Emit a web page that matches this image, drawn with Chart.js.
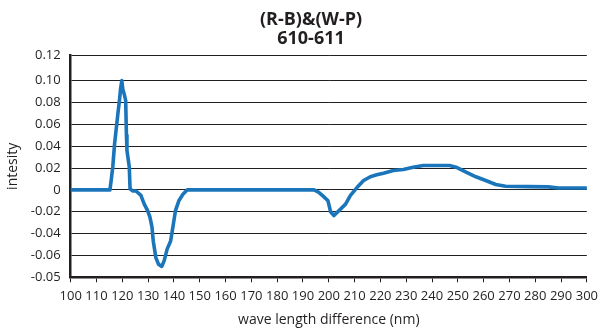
<!DOCTYPE html>
<html>
<head>
<meta charset="utf-8">
<script src="https://cdn.jsdelivr.net/npm/chart.js@4"></script>
<style>
  html, body { margin: 0; padding: 0; background: #fff; }
  #contenedor { width: 604px; height: 328px; position: relative; }
</style>
</head>
<body>
<div id="contenedor"><canvas id="grafico"></canvas></div>
<script>
// datos
const titulo = ['(R-B)&(W-P)', '610-611'];
const longitud = [100, 115.2, 115.7, 116.3, 117.0, 117.6, 118.3, 118.9, 119.3, 119.8, 120.2, 120.8, 121.3, 121.6, 121.8,
    122.7, 123.0, 124.0, 125.3, 127.2, 128.5, 129.8, 130.7, 131.5, 132.0, 133.0, 134.0, 135.3, 136.2, 137.4, 138.7,
    139.6, 140.6, 141.9, 143.5, 145.1, 194.3, 196.0, 197.5, 199.7, 200.7, 202.0, 203.9, 206.5, 208.4, 211.0, 213.5,
    216.1, 218.6, 221.2, 225.0, 228.9, 232.7, 236.6, 241.7, 246.8, 249.3, 253.2, 257.0, 260.8, 264.7, 268.5, 277.5,
    285.1, 288.9, 300];
const intensidad = [0, 0, 0.009, 0.021, 0.042, 0.055, 0.070, 0.082, 0.092, 0.100, 0.092, 0.087, 0.082, 0.050, 0.036,
    0.021, 0.001, -0.001, -0.001, -0.005, -0.013, -0.019, -0.025, -0.034, -0.047, -0.062, -0.068, -0.070, -0.065, -0.054, -0.047,
    -0.034, -0.019, -0.010, -0.004, 0, 0, -0.002, -0.005, -0.010, -0.020, -0.0235, -0.019, -0.013, -0.005, 0.0024, 0.0086,
    0.012, 0.0138, 0.0153, 0.0178, 0.0187, 0.0208, 0.0223, 0.0223, 0.0223, 0.0208, 0.0162, 0.012, 0.0086, 0.0049, 0.0033, 0.0030,
    0.0028, 0.0018, 0.0018];
// la linea superior queda un poco por encima de 0.12 en el original
const yValoresTicks = [-0.08, -0.06, -0.04, -0.02, 0, 0.02, 0.04, 0.06, 0.08, 0.10, 0.1232];
const yEtiquetas = ['-0.05', '-0.06', '-0.04', '-0.02', '0', '0.02', '0.04', '0.06', '0.08', '0.10', '0.12'];

const oscuro = '#231f20';
const fuente = 'Open Sans';

const puntos = longitud.map((x, i) => ({ x: x, y: intensidad[i] }));

// mueve el titulo para que quede centrado como en la imagen
const moverTitulo = {
    id: 'moverTitulo',
    beforeDraw(chart) {
        if (chart.titleBlock) {
            chart.titleBlock.left = 30;
            chart.titleBlock.right = 592;
        }
    }
};

const ctx = document.getElementById('grafico').getContext('2d');
new Chart(ctx, {
    type: 'line',
    data: {
        datasets: [{
            data: puntos,
            borderColor: '#1b75bb',
            borderWidth: 3.6,
            borderJoinStyle: 'round',
            borderCapStyle: 'round',
            pointRadius: 0,
            tension: 0,
            fill: false
        }]
    },
    options: {
        responsive: true,
        maintainAspectRatio: false,
        animation: false,
        layout: { padding: { left: 0, right: 12, top: 0, bottom: 0 } },
        plugins: {
            legend: { display: false },
            tooltip: { enabled: false },
            title: {
                display: true,
                text: titulo,
                color: oscuro,
                font: { family: fuente, size: 18, weight: 'bold', lineHeight: 1.05 },
                padding: { top: 10.5, bottom: 7.0 }
            }
        },
        scales: {
            x: {
                type: 'linear',
                min: 100,
                max: 300,
                afterFit: (scale) => { scale.height = 50.7; },
                ticks: {
                    stepSize: 10,
                    autoSkip: false,
                    maxRotation: 0,
                    color: oscuro,
                    padding: 6,
                    font: { family: fuente, size: 13 }
                },
                grid: {
                    drawOnChartArea: false,
                    drawTicks: true,
                    tickLength: 5,
                    color: oscuro,
                    lineWidth: 1
                },
                border: { color: oscuro, width: 2.5 },
                title: {
                    display: true,
                    text: 'wave length difference (nm)',
                    color: oscuro,
                    font: { family: fuente, size: 14 },
                    padding: { top: 0, bottom: 0 }
                }
            },
            y: {
                min: -0.08,
                max: 0.1232,
                afterFit: (scale) => { scale.width = 70.7; },
                afterBuildTicks: (scale) => {
                    scale.ticks = yValoresTicks.map(v => ({ value: v }));
                },
                ticks: {
                    color: oscuro,
                    padding: 10,
                    font: { family: fuente, size: 13 },
                    callback: function(value, index) {
                        return yEtiquetas[index];
                    }
                },
                grid: {
                    drawTicks: false,
                    color: oscuro,
                    lineWidth: 1
                },
                border: { color: oscuro, width: 2.5 },
                title: {
                    display: true,
                    text: 'intesity',
                    color: oscuro,
                    font: { family: fuente, size: 14 },
                    padding: { top: 5, bottom: 0 }
                }
            }
        }
    },
    plugins: [moverTitulo]
});
</script>
</body>
</html>
